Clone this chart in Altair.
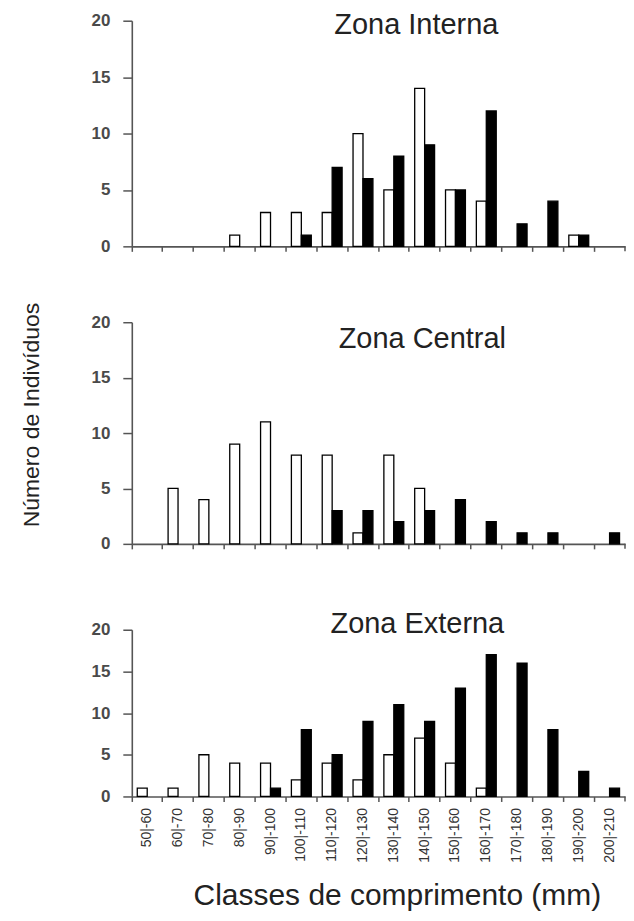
import altair as alt
import pandas as pd

categorias = ["50|-60", "60|-70", "70|-80", "80|-90", "90|-100", "100|-110",
              "110|-120", "120|-130", "130|-140", "140|-150", "150|-160",
              "160|-170", "170|-180", "180|-190", "190|-200", "200|-210"]
series = ["Série A", "Série B"]

interna_a = [0, 0, 0, 1, 3, 3, 3, 10, 5, 14, 5, 4, 0, 0, 1, 0]
interna_b = [0, 0, 0, 0, 0, 1, 7, 6, 8, 9, 5, 12, 2, 4, 1, 0]

central_a = [0, 5, 4, 9, 11, 8, 8, 1, 8, 5, 0, 0, 0, 0, 0, 0]
central_b = [0, 0, 0, 0, 0, 0, 3, 3, 2, 3, 4, 2, 1, 1, 0, 1]

externa_a = [1, 1, 5, 4, 4, 2, 4, 2, 5, 7, 4, 1, 0, 0, 0, 0]
externa_b = [0, 0, 0, 0, 1, 8, 5, 9, 11, 9, 13, 17, 16, 8, 3, 1]

y_ticks = [0, 5, 10, 15, 20]

FONT = "Liberation Sans"
AX = "#555555"
W = 494


def long_df(a, b):
    rows = []
    for c, va, vb in zip(categorias, a, b):
        rows.append({"classe": c, "serie": series[0], "n": va})
        rows.append({"classe": c, "serie": series[1], "n": vb})
    df = pd.DataFrame(rows)
    return df[df.n > 0]


def panel(a, b, titulo, H, yrange, tx, ty, show_labels, extra_layers=()):
    df = long_df(a, b)
    if show_labels:
        x_axis = alt.Axis(title=None, labels=True, bandPosition=0, tickSize=5,
                          labelAngle=-90, labelFontSize=14, labelPadding=6,
                          labelAlign="right", labelBaseline="middle",
                          labelColor="#333333")
    else:
        x_axis = alt.Axis(title=None, labels=False, bandPosition=0, tickSize=5)
    yscale = alt.Scale(domain=[0, 20], nice=False)
    if yrange is not None:
        yscale = alt.Scale(domain=[0, 20], nice=False, range=yrange)
    bars = alt.Chart(df).mark_bar(stroke="black", strokeWidth=1.3).encode(
        x=alt.X("classe:N", sort=categorias,
                scale=alt.Scale(domain=categorias, paddingInner=0, paddingOuter=0),
                axis=x_axis),
        xOffset=alt.XOffset("serie:N",
                            scale=alt.Scale(domain=series, paddingInner=0, paddingOuter=0.55)),
        y=alt.Y("n:Q", scale=yscale,
                axis=alt.Axis(values=y_ticks, title=None, tickSize=9, labelPadding=13,
                              labelFontSize=17, labelFontWeight="bold",
                              labelColor="#4a4a4a")),
        color=alt.Color("serie:N", scale=alt.Scale(domain=series, range=["white", "black"]),
                        legend=None),
    )
    title = alt.Chart(pd.DataFrame({"t": [titulo]})).mark_text(
        font=FONT, fontSize=29, color="#222222", align="center", baseline="alphabetic"
    ).encode(x=alt.value(tx), y=alt.value(ty), text="t:N")
    endtick = alt.Chart(pd.DataFrame({"k": [0]})).mark_rule(color=AX, strokeWidth=1.5).encode(
        x=alt.value(W), y=alt.value(H), y2=alt.value(H + 5)
    )
    return alt.layer(bars, title, endtick, *extra_layers).properties(width=W, height=H)


ytitle = alt.Chart(pd.DataFrame({"t": ["Número de Indivíduos"]})).mark_text(
    font=FONT, fontSize=23, color="#222222", angle=270, align="center", baseline="alphabetic"
).encode(x=alt.value(-93), y=alt.value(93), text="t:N")

xtitle = alt.Chart(pd.DataFrame({"t": ["Classes de comprimento (mm)"]})).mark_text(
    font=FONT, fontSize=30, color="#222222", align="center", baseline="alphabetic"
).encode(x=alt.value(266), y=alt.value(177 + 109), text="t:N")

top = panel(interna_a, interna_b, "Zona Interna", 226, None, 285, 13, False)
mid = panel(central_a, central_b, "Zona Central", 222, None, 291, 26, False, [ytitle])
bot = panel(externa_a, externa_b, "Zona Externa", 177, [177, 10], 286, 13, True, [xtitle])

chart = alt.vconcat(top, mid, bot, spacing=76, bounds="flush").properties(
    padding={"left": 13, "top": 2, "right": 0, "bottom": 0}
).configure_view(stroke=None).configure_axis(
    grid=False, domainColor=AX, tickColor=AX, domainWidth=1.6, tickWidth=1.5,
    labelFont=FONT
)

chart.save("out.html", embed_options={"renderer": "svg", "actions": False})
